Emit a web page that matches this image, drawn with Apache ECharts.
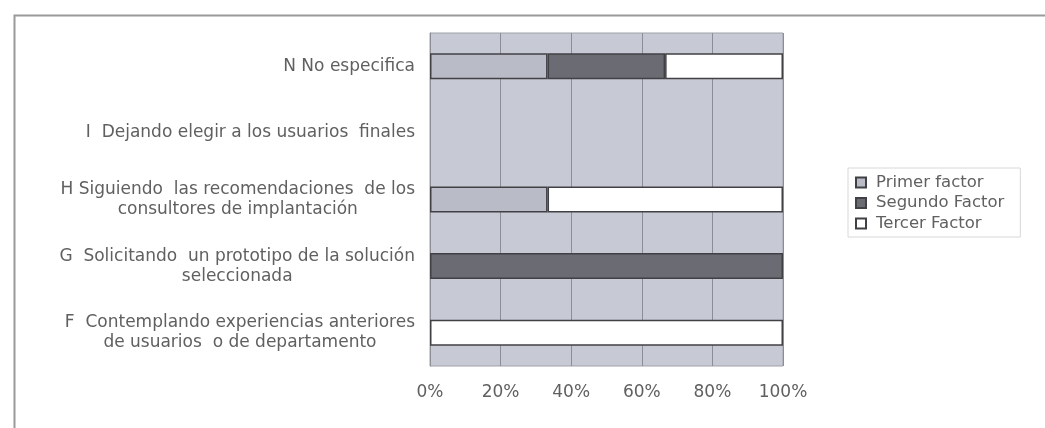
<!DOCTYPE html>
<html>
<head>
<meta charset="utf-8">
<script src="https://cdn.jsdelivr.net/npm/echarts@6/dist/echarts.min.js"></script>
<style>html,body{margin:0;padding:0;background:#fff}#c{width:1045px;height:428px}</style>
</head>
<body>
<div id="c"></div>
<script>
var categories = [
  'F  Contemplando experiencias anteriores\nde usuarios  o de departamento',
  'G  Solicitando  un prototipo de la solución\nseleccionada',
  'H Siguiendo  las recomendaciones  de los\nconsultores de implantación',
  'I  Dejando elegir a los usuarios  finales',
  'N No especifica'
];
var seriesNames = ['Primer factor', 'Segundo Factor', 'Tercer Factor'];
var primer  = [null, null, 33.3, null, 33.3];
var segundo = [null, 100, null, null, 33.3];
var tercer  = [100, null, 66.7, null, 33.4];
var xTicks = [0, 20, 40, 60, 80, 100];

var FONT = '"DejaVu Sans", "Liberation Sans", Arial, sans-serif';
var TXT = '#606060';
var colors = ['#b9bcc6', '#6b6b73', '#ffffff'];

var chart = echarts.init(document.getElementById('c'));
function mk(name, data, color) {
  return {
    name: name, type: 'bar', stack: 'total', data: data, barWidth: 26,
    itemStyle: { color: color, borderColor: '#414145', borderWidth: 1.5 },
    emphasis: { disabled: true }, animation: false
  };
}
chart.setOption({
  backgroundColor: '#ffffff',
  animation: false,
  graphic: [{
    type: 'rect', left: 12, top: 13, silent: true,
    shape: { width: 1100, height: 500 },
    style: { fill: 'none', stroke: '#9a9a9a', lineWidth: 2 }
  }],
  grid: {
    left: 430, right: 262, top: 33, bottom: 62,
    show: true, backgroundColor: '#c7c9d4', borderColor: '#a0a2aa', borderWidth: 1
  },
  legend: {
    orient: 'vertical', left: 848, top: 168,
    data: seriesNames,
    icon: 'rect', itemWidth: 10, itemHeight: 10, itemGap: 3.5,
    padding: [6, 16, 5, 7],
    borderColor: '#d8d8d8', borderWidth: 1,
    textStyle: { fontFamily: FONT, fontSize: 16.5, color: TXT, lineHeight: 17, padding: [0, 0, 0, 5] },
    selectedMode: false
  },
  xAxis: {
    type: 'value', min: 0, max: 100, interval: 20,
    axisLine: { show: false }, axisTick: { show: false },
    splitLine: { show: true, lineStyle: { color: '#8c8e97', width: 1 } },
    axisLabel: {
      margin: 18, fontFamily: FONT, fontSize: 17, color: TXT,
      formatter: function (v) { return xTicks.indexOf(v) >= 0 ? v + '%' : ''; }
    }
  },
  yAxis: {
    type: 'category', data: categories,
    axisLine: { show: true, lineStyle: { color: '#8c8e97' } },
    axisTick: { show: false },
    axisLabel: {
      margin: 15, color: TXT, fontFamily: FONT, fontSize: 17, lineHeight: 20,
      formatter: function (v) {
        return v.split('\n').map(function (l) { return '{c|' + l + '}'; }).join('\n');
      },
      rich: { c: { align: 'center', fontFamily: FONT, fontSize: 17, color: TXT, lineHeight: 20 } }
    }
  },
  series: [
    mk(seriesNames[0], primer, colors[0]),
    mk(seriesNames[1], segundo, colors[1]),
    mk(seriesNames[2], tercer, colors[2])
  ]
});
</script>
</body>
</html>
